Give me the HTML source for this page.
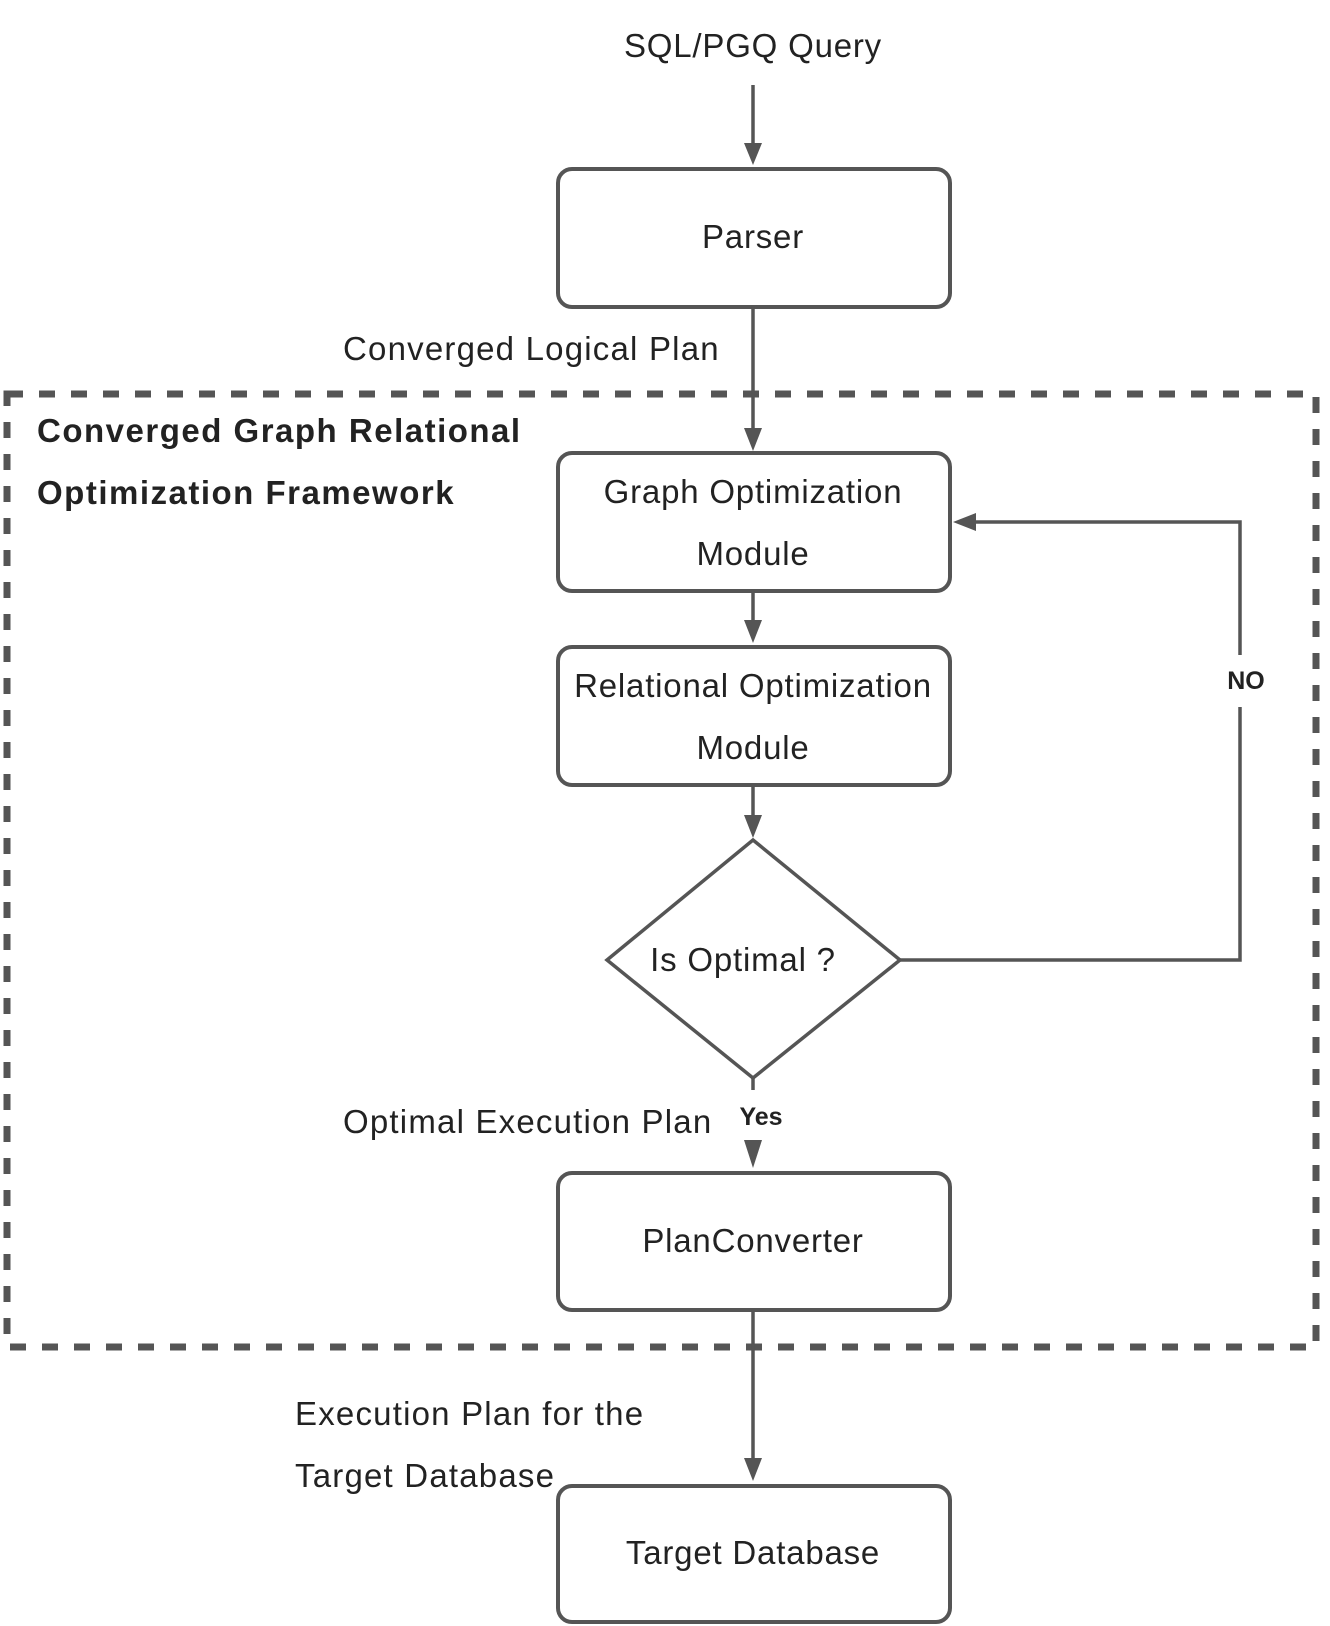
<!DOCTYPE html>
<html><head><meta charset="utf-8"><style>
html,body{margin:0;padding:0;background:#fff;}
svg{display:block;}
text{font-family:"Liberation Sans",sans-serif;fill:#222;}
</style></head><body>
<svg width="1330" height="1626" viewBox="0 0 1330 1626" xmlns="http://www.w3.org/2000/svg">
<g stroke="#555" fill="none">
<rect x="7" y="394" width="1309" height="953" stroke-width="7" stroke-dasharray="16 16"/>
<g stroke-width="4">
<rect x="558" y="169" width="392" height="138" rx="14"/>
<rect x="558" y="453" width="392" height="138" rx="14"/>
<rect x="558" y="647" width="392" height="138" rx="14"/>
<rect x="558" y="1173" width="392" height="137" rx="14"/>
<rect x="558" y="1486" width="392" height="136" rx="14"/>
<polygon points="753,840 900,960 753,1078 607,960" stroke-width="3.5"/>
</g>
<g stroke-width="3.5">
<line x1="753" y1="85" x2="753" y2="145"/>
<line x1="753" y1="307" x2="753" y2="430"/>
<line x1="753" y1="591" x2="753" y2="620"/>
<line x1="753" y1="785" x2="753" y2="815"/>
<line x1="753" y1="1078" x2="753" y2="1090"/>
<line x1="753" y1="1310" x2="753" y2="1460"/>
<polyline points="900,960 1240,960 1240,707"/>
<polyline points="1240,655 1240,522 975,522"/>
</g>
</g>
<g fill="#555">
<polygon points="744,143 762,143 753,165"/>
<polygon points="744,428 762,428 753,451"/>
<polygon points="744,620 762,620 753,643"/>
<polygon points="744,815 762,815 753,838"/>
<polygon points="744,1140 762,1140 753,1168"/>
<polygon points="744,1458 762,1458 753,1481"/>
<polygon points="976,513 976,531 953,522"/>
</g>
<g font-size="33" text-anchor="middle" letter-spacing="0.8">
<text x="753" y="57">SQL/PGQ Query</text>
<text x="753" y="248">Parser</text>
<text x="753" y="503">Graph Optimization</text>
<text x="753" y="565">Module</text>
<text x="753" y="697">Relational Optimization</text>
<text x="753" y="759">Module</text>
<text x="743" y="971">Is Optimal ?</text>
<text x="753" y="1252">PlanConverter</text>
<text x="753" y="1564">Target Database</text>
</g>
<g font-size="33" letter-spacing="1.2">
<text x="343" y="360">Converged Logical Plan</text>
<text x="343" y="1133">Optimal Execution Plan</text>
<text x="295" y="1425">Execution Plan for the</text>
<text x="295" y="1487">Target Database</text>
<text x="37" y="442" font-weight="bold" letter-spacing="1.5">Converged Graph Relational</text>
<text x="37" y="504" font-weight="bold" letter-spacing="1.5">Optimization Framework</text>
</g>
<g font-size="25" font-weight="bold" text-anchor="middle">
<text x="761" y="1125">Yes</text>
<text x="1246" y="689">NO</text>
</g>
</svg>
</body></html>
